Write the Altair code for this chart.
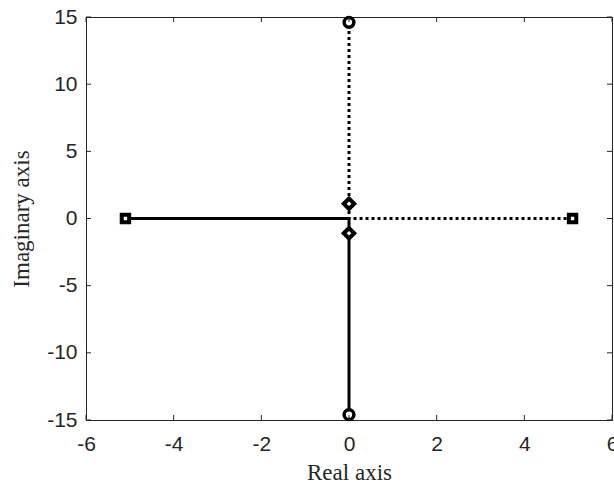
import altair as alt
import pandas as pd

# Root-locus branches
solid_x = [-5.1, 0.0, 0.0]
solid_y = [0.0, 0.0, -14.6]
dotted_x = [5.1, 0.0, 0.0]
dotted_y = [0.0, 0.0, 14.6]
# Markers
square_x = [-5.1, 5.1]
square_y = [0.0, 0.0]
circle_x = [0.0, 0.0]
circle_y = [14.6, -14.6]
diamond_x = [0.0, 0.0]
diamond_y = [1.1, -1.1]
# Ticks
x_ticks = [-6, -4, -2, 0, 2, 4, 6]
y_ticks = [-15, -10, -5, 0, 5, 10, 15]

W, H = 526, 403
INK = "#262626"

solid = pd.DataFrame({"x": solid_x, "y": solid_y, "o": list(range(len(solid_x)))})
dotted = pd.DataFrame({"x": dotted_x, "y": dotted_y, "o": list(range(len(dotted_x)))})
squares = pd.DataFrame({"x": square_x, "y": square_y})
circles = pd.DataFrame({"x": circle_x, "y": circle_y})
diamonds = pd.DataFrame({"x": diamond_x, "y": diamond_y})
xt = pd.DataFrame({"x": x_ticks})
yt = pd.DataFrame({"y": y_ticks})

xs = alt.Scale(domain=[-6, 6], nice=False, zero=False)
ys = alt.Scale(domain=[-15, 15], nice=False, zero=False)

x_axis = alt.Axis(values=x_ticks, title="Real axis", grid=False, domain=False, ticks=False,
                  labelExpr="'' + datum.value",
                  labelFont="Liberation Sans", labelFontSize=21, labelColor=INK, labelPadding=13,
                  titleFont="Liberation Serif", titleFontSize=23, titleFontWeight="normal",
                  titleColor=INK, titlePadding=7, labelFlush=False)
y_axis = alt.Axis(values=y_ticks, title="Imaginary axis", grid=False, domain=False, ticks=False,
                  labelExpr="'' + datum.value",
                  labelFont="Liberation Sans", labelFontSize=21, labelColor=INK, labelPadding=9,
                  titleFont="Liberation Serif", titleFontSize=23, titleFontWeight="normal",
                  titleColor=INK, titlePadding=13, labelFlush=False)


def X():
    return alt.X("x:Q", scale=xs, axis=x_axis)


def Y():
    return alt.Y("y:Q", scale=ys, axis=y_axis)


solid_line = alt.Chart(solid).mark_line(color="black", strokeWidth=3).encode(
    x=X(), y=Y(), order="o:O")
dotted_line = alt.Chart(dotted).mark_line(color="black", strokeWidth=3, strokeDash=[3, 3]).encode(
    x=X(), y=Y(), order="o:O")
sq = alt.Chart(squares).mark_point(shape="square", filled=False, stroke="black", fill="white",
                                   fillOpacity=1, strokeWidth=4, size=55, opacity=1).encode(
    x=X(), y=Y())
ci = alt.Chart(circles).mark_point(shape="circle", filled=False, stroke="black", fill="white",
                                   fillOpacity=1, strokeWidth=3.5, size=95, opacity=1).encode(
    x=X(), y=Y())
di = alt.Chart(diamonds).mark_point(shape="diamond", filled=False, stroke="black", fill="white",
                                    fillOpacity=1, strokeWidth=4, size=110, opacity=1).encode(
    x=X(), y=Y())

tick_style = dict(color=INK, strokeWidth=1)
bt = alt.Chart(xt).mark_rule(**tick_style).encode(
    x=X(), y=alt.value(H), y2=alt.value(H - 5))
tt = alt.Chart(xt).mark_rule(**tick_style).encode(
    x=X(), y=alt.value(0), y2=alt.value(5))
lt = alt.Chart(yt).mark_rule(**tick_style).encode(
    y=Y(), x=alt.value(0), x2=alt.value(5))
rt = alt.Chart(yt).mark_rule(**tick_style).encode(
    y=Y(), x=alt.value(W), x2=alt.value(W - 5))

chart = alt.layer(solid_line, dotted_line, sq, ci, di, bt, tt, lt, rt).properties(
    width=W, height=H,
    autosize=alt.AutoSizeParams(type="none"),
    padding={"left": 86, "top": 17, "right": 2, "bottom": 64},
    background="white",
).configure_view(stroke=INK, strokeWidth=1)

chart.save("out.html", embed_options={"renderer": "svg", "actions": False})
